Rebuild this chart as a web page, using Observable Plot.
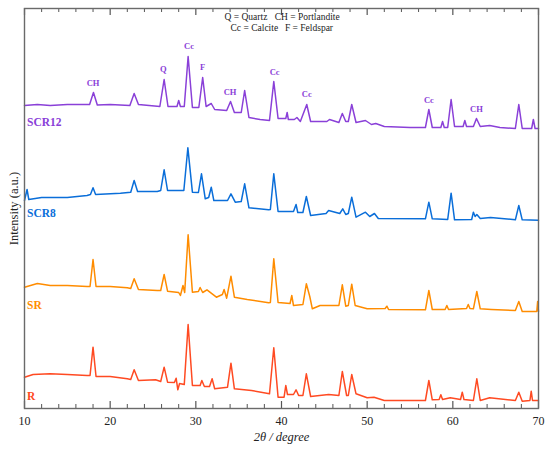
<!DOCTYPE html>
<html>
<head>
<meta charset="utf-8">
<script src="https://cdn.jsdelivr.net/npm/d3@7"></script>
<script src="https://cdn.jsdelivr.net/npm/@observablehq/plot@0.6"></script>
<style>
  html, body { margin: 0; padding: 0; background: #fff; }
  #chart svg, #chart svg text { font-family: "Liberation Serif", "DejaVu Serif", serif !important; }
</style>
</head>
<body>
<div id="chart"></div>
<script>
// ---- Data (2θ in degrees, intensity in arbitrary units with vertical offsets) ----
const seriesNames = ["SCR12", "SCR8", "SR", "R"];
const seriesColors = ["#8a40d8", "#0a6ed9", "#ff8c00", "#ff4a22"];

const scr12 = [
  [10.0,303],[11.5,304],[13,303],[15,304],[17.6,304],[18.05,316],[18.5,303.5],[20,304],
  [22.3,303],[22.8,315],[23.3,304],[25.8,302],[26.3,329],[26.75,302],[27.8,302],[28.0,308],
  [28.2,302],[28.65,302],[29.1,352],[29.6,301],[30.35,301],[30.8,331],[31.2,302],[31.8,305],
  [32.2,299],[33.6,298],[34.05,307],[34.5,296],[35.3,296],[35.7,318],[36.2,291],[37.5,289],
  [38.6,288],[39.1,327],[39.6,290],[40.5,290],[40.66,296],[40.8,289],[41.5,289],[41.8,291],
  [42.2,287],[42.95,304],[43.4,287],[45.3,287],[45.6,289],[46.7,286],[47.1,295],[47.5,287],
  [47.8,287],[48.2,304],[48.7,286],[49.8,288],[50.5,284],[51.0,285],[52,282],[55,281],
  [56.8,281],[57.2,299],[57.6,281],[58.6,281],[58.8,287],[59.0,281],[59.4,281],[59.8,309],
  [60.2,282],[61.2,282],[61.4,288],[61.6,282],[62.4,282],[62.76,290],[63.2,282],[64.3,283],
  [65.5,281],[67.3,280],[67.7,304],[68.1,280],[69.2,280],[69.4,289],[69.6,280],[70,280]
];

const scr8 = [
  [10.0,208],[10.3,219],[10.5,209],[12,211],[15,211],[17.3,213],[17.7,214],[18.0,220.7],
  [18.3,214],[21.2,215.3],[22.4,216.3],[22.8,228],[23.2,217],[25.5,217],[25.9,218],[26.3,238.7],
  [26.7,218],[28.6,218],[29.07,260.7],[29.6,216.3],[30.3,216],[30.66,234.7],[31.1,209.7],[31.5,211],
  [31.8,221.3],[32.1,208],[33.7,208],[34.1,214.7],[34.6,206.3],[35.3,207],[35.7,224.7],[36.2,200.7],
  [38.5,198.7],[38.7,199],[39.1,234.7],[39.6,197],[41.4,197],[41.7,204],[41.9,196],[42.5,196],
  [42.9,212],[43.4,193],[45.2,195],[45.5,198],[46.8,195],[47.15,199.7],[47.5,194],[47.8,195],
  [48.2,211.3],[48.7,191.3],[49.8,196.3],[50.3,192],[50.85,195],[51.3,190],[56.8,189.7],[57.2,206.3],
  [57.6,189.7],[59.4,189],[59.8,215.3],[60.2,188.7],[62.2,189],[62.4,196.3],[62.6,192],[62.8,194],
  [63.2,190],[64.4,191],[67.3,188.7],[67.7,203],[68.1,188.7],[70,188.3]
];

const sr = [
  [10.0,121.3],[11.5,125],[13,123],[15,123],[17.3,122],[17.65,122],[18.0,149],[18.35,122],
  [20,122],[22.0,120.7],[22.4,120],[22.8,129.7],[23.3,119],[25.5,118],[25.9,118],[26.3,134],
  [26.7,117.3],[28.0,116],[28.2,113],[28.5,123],[28.7,116],[29.1,173.7],[29.6,116.3],[30.3,117],
  [30.5,121],[30.8,116],[31.3,118.7],[32.4,111.3],[33.1,114],[33.3,119],[33.6,110.3],[34.1,132.3],
  [34.5,111.3],[36,109],[38.5,105.7],[38.7,106],[39.1,149.7],[39.6,106],[41.0,105],[41.2,113],
  [41.4,103],[42.5,104],[42.9,124.7],[43.3,112],[43.6,99.7],[44.5,103],[46.7,103],[47.1,123.7],
  [47.5,102.3],[47.8,103],[48.2,124.3],[48.6,103],[50,99.7],[52.1,100],[52.3,102.3],[52.5,99],
  [56.8,98.7],[57.2,118],[57.6,99],[59.1,99],[59.3,103],[59.5,99],[61.6,100],[61.8,104],
  [62.0,100],[62.4,99.7],[62.8,117],[63.2,99.7],[64.5,99],[67.3,98],[67.7,107],[68.1,97],
  [69.8,97],[69.9,107],[70,97]
];

const r = [
  [10.0,31.3],[11,34],[13,34.7],[15,34],[17.3,33],[17.65,33],[18.0,61.3],[18.35,32],
  [20,32],[22.0,29.7],[22.4,29],[22.8,38.7],[23.3,28],[25.3,28.7],[25.9,27],[26.3,41.3],
  [26.7,26.3],[27.5,26],[27.7,30.3],[27.9,18.7],[28.1,25],[28.65,24],[29.1,84],[29.6,23],
  [30.5,23],[30.7,28],[31.0,22],[31.6,22],[31.9,29.7],[32.2,19.7],[33.7,21.3],[34.1,45.3],
  [34.5,19.7],[36.5,18],[38.6,14.7],[39.1,60.7],[39.6,11.3],[40.3,11.3],[40.5,23],[40.7,14],
  [41.4,14],[41.7,18.7],[42.0,13],[42.5,13],[42.9,34.7],[43.4,12],[45.5,14],[46.7,13],
  [47.1,37],[47.6,13],[47.8,13],[48.2,34],[48.7,14.7],[50,10.7],[50.8,11.3],[52,8],
  [56.8,8],[57.2,28],[57.6,8.7],[58.4,9],[58.6,13.7],[58.8,9],[59.7,10.7],[60.9,9],
  [61.1,16.3],[61.3,9],[62.4,8],[62.8,29.7],[63.2,8],[64.3,10.7],[67.3,8],[67.7,16.3],
  [68.1,7.3],[69.0,8],[69.15,17.3],[69.3,8],[70,8]
];

// series label anchors: [2θ, intensity]
const seriesLabelPos = [[10.3, 286], [10.3, 195], [10.3, 103], [10.3, 12]];

// phase annotations on SCR12: [label, 2θ, intensity]
const phaseLabels = [
  ["CH", 18.0, 325], ["Q", 26.2, 339], ["Cc", 29.2, 362], ["F", 30.8, 341],
  ["CH", 34.0, 316], ["Cc", 39.2, 336], ["Cc", 42.95, 314], ["Cc", 57.2, 308], ["CH", 62.75, 299]
];

// key text: [text, 2θ, intensity]
const keyLines = [
  ["Q = Quartz", 33.35, 392], ["CH = Portlandite", 39.2, 392],
  ["Cc = Calcite", 34.05, 381], ["F = Feldspar", 40.4, 381]
];

const majorTicks = [10, 20, 30, 40, 50, 60, 70];
const minorTicks = [12, 14, 16, 18, 22, 24, 26, 28, 32, 34, 36, 38, 42, 44, 46, 48, 52, 54, 56, 58, 62, 64, 66, 68];

const xLabel = "2θ / degree";
const yLabel = "Intensity (a.u.)";

// ---- Build ----
const allSeries = [scr12, scr8, sr, r];
const rows = allSeries.flatMap((s, i) => s.map(([x, y]) => ({x, y, name: seriesNames[i]})));
const labelRows = seriesNames.map((n, i) => ({name: n, x: seriesLabelPos[i][0], y: seriesLabelPos[i][1], color: seriesColors[i]}));

const W = 550, H = 449, mt = 8, mb = 41, ml = 24, mr = 12;
const plotH = H - mt - mb;
const majorLen = 7, minorLen = 4;
const serif = "Liberation Serif, DejaVu Serif, serif";

const chart = Plot.plot({
  width: W,
  height: H,
  marginTop: mt,
  marginBottom: mb,
  marginLeft: ml,
  marginRight: mr,
  style: {fontFamily: serif, background: "#fff", color: "#222"},
  x: {domain: [10, 70], label: null},
  y: {domain: [0, 400], label: null, axis: null},
  color: {domain: seriesNames, range: seriesColors},
  marks: [
    Plot.line(rows, {x: "x", y: "y", z: "name", stroke: "name", strokeWidth: 1.5, curve: "linear", strokeLinejoin: "round"}),
    // inward ticks bottom & top
    Plot.tickX(majorTicks, {x: d => d, insetTop: plotH - majorLen, stroke: "#555", strokeWidth: 1.2}),
    Plot.tickX(minorTicks, {x: d => d, insetTop: plotH - minorLen, stroke: "#555", strokeWidth: 1}),
    Plot.tickX(majorTicks, {x: d => d, insetBottom: plotH - majorLen, stroke: "#555", strokeWidth: 1.2}),
    Plot.tickX(minorTicks, {x: d => d, insetBottom: plotH - minorLen, stroke: "#555", strokeWidth: 1}),
    Plot.axisX(majorTicks, {anchor: "bottom", tickSize: 0, tickPadding: 7.5, fontSize: 12, label: null, fill: "#222", fontFamily: serif}),
    Plot.frame({stroke: "#6a6a6a", strokeWidth: 1.4}),
    // series labels
    Plot.text(labelRows, {x: "x", y: "y", text: "name", fill: "color", textAnchor: "start", fontWeight: "bold", fontSize: 11.5, fontFamily: serif}),
    // phase annotations
    Plot.text(phaseLabels, {x: d => d[1], y: d => d[2], text: d => d[0], fill: seriesColors[0], fontSize: 8.5, fontWeight: "bold", fontFamily: serif}),
    // key
    Plot.text(keyLines, {x: d => d[1], y: d => d[2], text: d => d[0], textAnchor: "start", fontSize: 9.5, fill: "#222", fontFamily: serif}),
    // axis labels
    Plot.text([xLabel], {frameAnchor: "bottom", dy: 28, lineAnchor: "middle", textAnchor: "middle", text: d => d, fontSize: 12.5, fontStyle: "italic", fill: "#222", fontFamily: serif}),
    Plot.text([yLabel], {frameAnchor: "left", dx: -11, rotate: -90, textAnchor: "middle", lineAnchor: "middle", text: d => d, fontSize: 12.5, fill: "#222", fontFamily: serif})
  ]
});

document.getElementById("chart").appendChild(chart);
</script>
</body>
</html>
